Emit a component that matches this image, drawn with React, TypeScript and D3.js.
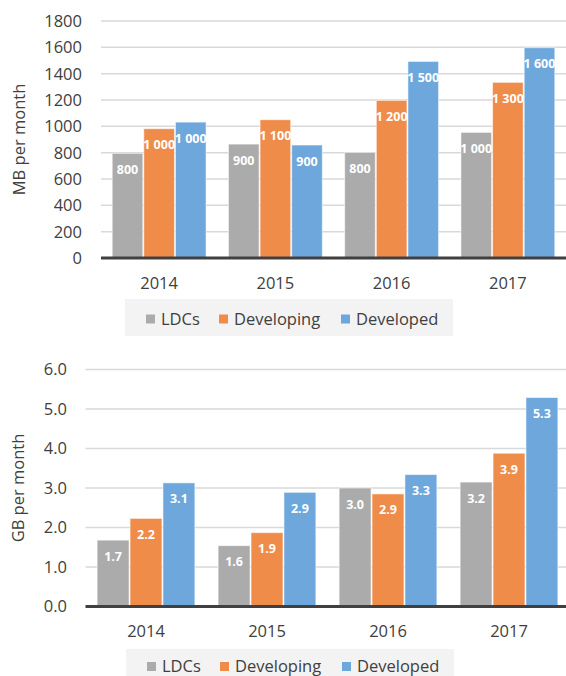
import React from "react";
import * as d3 from "d3";

const years = ["2014", "2015", "2016", "2017"];
const seriesNames = ["LDCs", "Developing", "Developed"];
const seriesColors = ["#ababab", "#ef8c4a", "#6ea7dc"];

// MB per month (bar heights as drawn, labels as printed)
const mbLDCs = [795, 865, 802, 954];
const mbDeveloping = [982, 1050, 1197, 1334];
const mbDeveloped = [1032, 858, 1493, 1597];
const mbLabelsLDCs = ["800", "900", "800", "1 000"];
const mbLabelsDeveloping = ["1 000", "1 100", "1 200", "1 300"];
const mbLabelsDeveloped = ["1 000", "900", "1 500", "1 600"];
const mbTicks = [0, 200, 400, 600, 800, 1000, 1200, 1400, 1600, 1800];

// GB per month
const gbLDCs = [1.68, 1.54, 3.0, 3.15];
const gbDeveloping = [2.23, 1.87, 2.85, 3.88];
const gbDeveloped = [3.13, 2.89, 3.34, 5.29];
const gbLabelsLDCs = ["1.7", "1.6", "3.0", "3.2"];
const gbLabelsDeveloping = ["2.2", "1.9", "2.9", "3.9"];
const gbLabelsDeveloped = ["3.1", "2.9", "3.3", "5.3"];
const gbTicks = [0, 1, 2, 3, 4, 5, 6];

const FONT = "'Open Sans', sans-serif";
const TEXT = "#404040";

const Panel = ({ values, labels, ticks, tickFmt, yTitle, layout }) => {
  const { x0, x1, yTop, yBase, max, tickRight, titleX, xLabelY, legend } = layout;
  const x = d3.scaleBand().domain(years).range([x0, x1]).paddingInner(0.184).paddingOuter(0.092);
  const xs = d3.scaleBand().domain(seriesNames).range([0, x.bandwidth()]);
  const y = d3.scaleLinear().domain([0, max]).range([yBase, yTop]);

  const legendOffsets = [0, 73, 195];

  return (
    <g>
      {ticks.map((t) => (
        <g key={t}>
          {t !== 0 && (
            <line x1={x0} x2={566} y1={y(t)} y2={y(t)} stroke="#d9d9d9" strokeWidth={1.5} />
          )}
          <text x={tickRight} y={y(t)} dy="0.36em" textAnchor="end" fontSize={16.5} fill={TEXT} fontFamily={FONT}>
            {tickFmt(t)}
          </text>
        </g>
      ))}
      <text
        transform={`translate(${titleX},${(yTop + yBase) / 2}) rotate(-90)`}
        textAnchor="middle"
        dy="0.36em"
        fontSize={16.5}
        fill={TEXT}
        fontFamily={FONT}
      >
        {yTitle}
      </text>
      {years.map((yr, i) => (
        <g key={yr}>
          {seriesNames.map((s, j) => {
            const v = values[j][i];
            const bx = x(yr) + xs(s);
            return (
              <g key={s}>
                <rect
                  x={bx + 0.5}
                  y={y(v)}
                  width={xs.bandwidth() - 1}
                  height={yBase - y(v)}
                  fill={seriesColors[j]}
                  stroke="rgba(255,255,255,0.55)"
                  strokeWidth={1}
                />
                <text
                  x={bx + xs.bandwidth() / 2}
                  y={y(v) + 16}
                  dy="0.36em"
                  textAnchor="middle"
                  fontSize={12.5}
                  fontWeight={700}
                  fill="#ffffff"
                  fontFamily={FONT}
                >
                  {labels[j][i]}
                </text>
              </g>
            );
          })}
          <text
            x={x(yr) + x.bandwidth() / 2}
            y={xLabelY}
            textAnchor="middle"
            fontSize={16.5}
            fill={TEXT}
            fontFamily={FONT}
          >
            {yr}
          </text>
        </g>
      ))}
      <line x1={x0} x2={566} y1={yBase} y2={yBase} stroke="#404040" strokeWidth={3} />
      <rect x={legend.x} y={legend.y} width={328} height={legend.h} fill="#f3f3f3" />
      {seriesNames.map((s, j) => (
        <g key={s} transform={`translate(${legend.x + 21 + legendOffsets[j]},${legend.textY})`}>
          <rect x={0} y={-10} width={9} height={9} fill={seriesColors[j]} />
          <text x={15} y={0} fontSize={16.5} fill={TEXT} fontFamily={FONT}>
            {s}
          </text>
        </g>
      ))}
    </g>
  );
};

export default function App() {
  return (
    <svg
      width={566}
      height={676}
      style={{ position: "absolute", left: 0, top: 0, background: "#fff" }}
    >
      <Panel
        values={[mbLDCs, mbDeveloping, mbDeveloped]}
        labels={[mbLabelsLDCs, mbLabelsDeveloping, mbLabelsDeveloped]}
        ticks={mbTicks}
        tickFmt={(t) => String(t)}
        yTitle="MB per month"
        layout={{
          x0: 101,
          x1: 566,
          yTop: 21,
          yBase: 258,
          max: 1800,
          tickRight: 82,
          titleX: 19,
          xLabelY: 288.5,
          legend: { x: 125, y: 299, h: 37, textY: 324.5 },
        }}
      />
      <Panel
        values={[gbLDCs, gbDeveloping, gbDeveloped]}
        labels={[gbLabelsLDCs, gbLabelsDeveloping, gbLabelsDeveloped]}
        ticks={gbTicks}
        tickFmt={(t) => t.toFixed(1)}
        yTitle="GB per month"
        layout={{
          x0: 85.5,
          x1: 569.5,
          yTop: 369.5,
          yBase: 606.5,
          max: 6,
          tickRight: 67,
          titleX: 18,
          xLabelY: 637,
          legend: { x: 126, y: 649, h: 40, textY: 672 },
        }}
      />
    </svg>
  );
}
